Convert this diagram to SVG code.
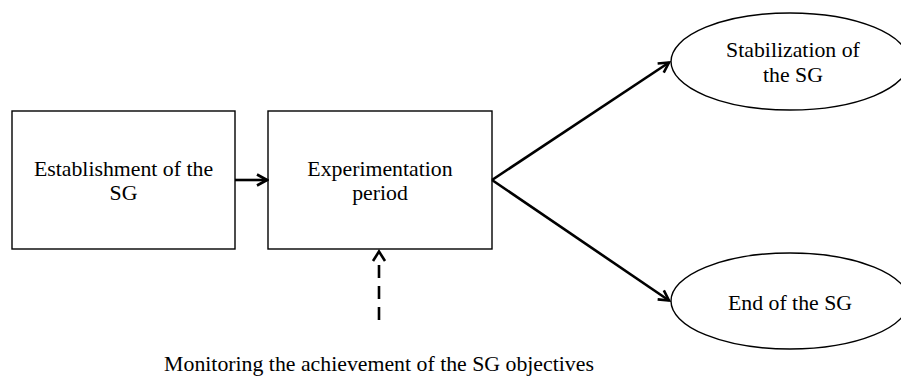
<svg xmlns="http://www.w3.org/2000/svg" width="901" height="376" viewBox="0 0 901 376">
<style>
.box{fill:#fff;stroke:#000;stroke-width:1.4}
.t{font-family:"Liberation Serif","Times New Roman",serif;font-size:21.8px;fill:#000;text-anchor:middle}
.c{fill:none;stroke:#000;stroke-width:2.6}
.d{fill:none;stroke:#000;stroke-width:2.6;stroke-dasharray:13 8}
</style>
<defs>
<marker id="ah" markerWidth="13" markerHeight="14" refX="11" refY="7" orient="auto" markerUnits="userSpaceOnUse">
<path d="M1,1.5 L11,7 L1,12.5" fill="none" stroke="#000" stroke-width="2.6"/>
</marker>
</defs>
<rect width="901" height="376" fill="#fff"/>
<g id="n1">
<rect class="box" x="12" y="111" width="223" height="138"/>
<text class="t" x="123.5" y="176">Establishment of the</text>
<text class="t" x="123.5" y="200">SG</text>
</g>
<g id="n2">
<rect class="box" x="268" y="111" width="224" height="138"/>
<text class="t" x="380" y="176">Experimentation</text>
<text class="t" x="380" y="200">period</text>
</g>
<g id="n3">
<ellipse class="box" cx="790" cy="61.5" rx="119" ry="48.5"/>
<text class="t" x="793" y="57">Stabilization of</text>
<text class="t" x="793" y="82">the SG</text>
</g>
<g id="n4">
<ellipse class="box" cx="790" cy="301" rx="119" ry="48"/>
<text class="t" x="790" y="310">End of the SG</text>
</g>
<g id="label">
<text class="t" x="379" y="370.5">Monitoring the achievement of the SG objectives</text>
</g>
<g id="connectors">
<line class="c" x1="235" y1="180" x2="267" y2="180" marker-end="url(#ah)"/>
<line class="c" x1="492" y1="180" x2="669" y2="62.5" marker-end="url(#ah)"/>
<line class="c" x1="492" y1="180" x2="669" y2="300.5" marker-end="url(#ah)"/>
<line class="d" x1="379" y1="320" x2="379" y2="262"/>
<path d="M373,261 L379,251.5 L385,261" fill="none" stroke="#000" stroke-width="2.6"/>
</g>
</svg>
